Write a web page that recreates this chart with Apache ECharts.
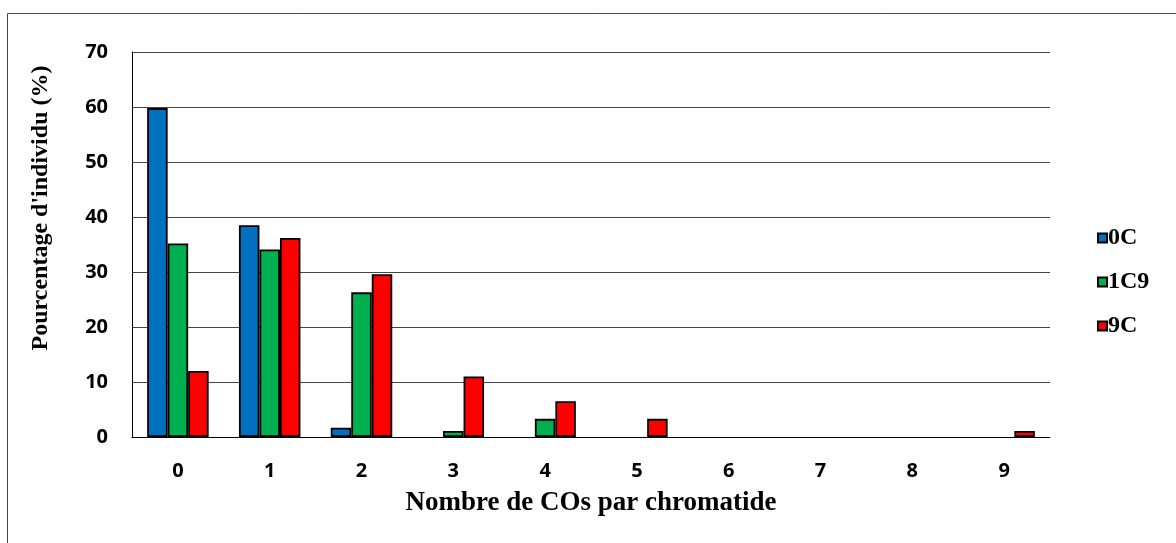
<!DOCTYPE html>
<html>
<head>
<meta charset="utf-8">
<script src="https://cdn.jsdelivr.net/npm/echarts@6/dist/echarts.min.js"></script>
<style>
    html, body {margin: 0; padding: 0; background: #fff;}
    #chart {width: 1176px; height: 543px;}
</style>
</head>
<body>
<div id="chart"></div>
<script>
// données
const categories = ['0', '1', '2', '3', '4', '5', '6', '7', '8', '9'];
const serie0C = [59.8, 38.5, 1.7, 0, 0, 0, 0, 0, 0, 0];
const serie1C9 = [35.2, 34.1, 26.3, 1.1, 3.3, 0, 0, 0, 0, 0];
const serie9C = [12.0, 36.2, 29.6, 11.0, 6.5, 3.3, 0, 0, 0, 1.1];
const yTicks = [0, 10, 20, 30, 40, 50, 60, 70];

const serifFont = '"Liberation Serif", "Times New Roman", serif';
const sansFont = '"Open Sans", "DejaVu Sans", sans-serif';

const chart = echarts.init(document.getElementById('chart'), null, {renderer: 'canvas'});

// les valeurs nulles ne sont pas dessinées (pas de barre plate)
const noZero = (arr) => arr.map(v => (v === 0 ? '-' : v));

// style commun des barres
const barStyle = (color) => ({
    color: color,
    borderColor: '#000',
    borderWidth: 1.8
});

const option = {
    animation: false,
    backgroundColor: '#fff',
    grid: {
        left: 132,
        right: 126,
        top: 52,
        bottom: 106
    },
    legend: {
        orient: 'vertical',
        left: 1092,
        top: 221,
        itemWidth: 9,
        itemHeight: 9,
        itemGap: 20,
        icon: 'rect',
        textStyle: {
            fontFamily: serifFont,
            fontWeight: 'bold',
            fontSize: 24,
            color: '#000',
            padding: [0, 0, 0, -4]
        },
        data: ['0C', '1C9', '9C']
    },
    xAxis: {
        type: 'category',
        data: categories,
        axisLine: {lineStyle: {color: '#000', width: 1}},
        axisTick: {show: false},
        axisLabel: {
            margin: 24,
            fontFamily: sansFont,
            fontWeight: 'bold',
            fontSize: 20,
            color: '#000'
        },
        name: 'Nombre de COs par chromatide',
        nameLocation: 'middle',
        nameGap: 53,
        nameTextStyle: {
            fontFamily: serifFont,
            fontWeight: 'bold',
            fontSize: 27,
            color: '#000'
        }
    },
    yAxis: {
        type: 'value',
        min: yTicks[0],
        max: yTicks[yTicks.length - 1],
        interval: 10,
        axisLine: {show: true, lineStyle: {color: '#000', width: 1}},
        axisTick: {show: false},
        axisLabel: {
            margin: 24,
            fontFamily: sansFont,
            fontWeight: 'bold',
            fontSize: 20,
            color: '#000'
        },
        splitLine: {lineStyle: {color: '#444', width: 1}}
    },
    series: [
        {
            name: '0C',
            type: 'bar',
            data: noZero(serie0C),
            barGap: '0%',
            barCategoryGap: '33%',
            itemStyle: barStyle('#0070C0')
        },
        {
            name: '1C9',
            type: 'bar',
            data: noZero(serie1C9),
            itemStyle: barStyle('#00B050')
        },
        {
            name: '9C',
            type: 'bar',
            data: noZero(serie9C),
            itemStyle: barStyle('#FF0000')
        }
    ],
    graphic: [
        {
            // cadre extérieur
            type: 'rect',
            shape: {x: 7.5, y: 13.5, width: 1300, height: 700},
            style: {fill: 'none', stroke: '#444', lineWidth: 1},
            silent: true
        },
        {
            // titre de l'axe vertical
            type: 'text',
            x: 41,
            y: 208,
            rotation: Math.PI / 2,
            style: {
                text: "Pourcentage d'individu (%)",
                fontFamily: serifFont,
                fontWeight: 'bold',
                fontSize: 24,
                fill: '#000',
                align: 'center',
                verticalAlign: 'middle'
            }
        }
    ]
};

chart.setOption(option);
</script>
</body>
</html>
